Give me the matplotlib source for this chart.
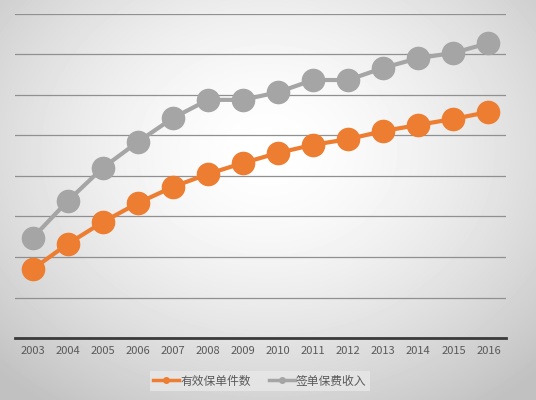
import numpy as np
import matplotlib.pyplot as plt
from matplotlib.lines import Line2D

plt.rcParams['font.family'] = ['Noto Sans CJK SC', 'DejaVu Sans']

years = list(range(2003, 2017))
# 有效保单件数 (orange)
policies = [1.70, 2.32, 2.86, 3.33, 3.73, 4.05, 4.32, 4.57, 4.77, 4.91, 5.11, 5.26, 5.41, 5.58]
# 签单保费收入 (gray)
premiums = [2.47, 3.38, 4.20, 4.84, 5.43, 5.88, 5.88, 6.07, 6.37, 6.37, 6.67, 6.91, 7.04, 7.28]

ORANGE = "#ed7d31"
GRAY = "#a5a5a5"
TEXT = "#595959"

fig = plt.figure(figsize=(5.36, 4.00), dpi=100)

# radial gradient background
bg = fig.add_axes([0, 0, 1, 1])
gx, gy = np.meshgrid(np.linspace(-1, 1, 536), np.linspace(-1, 1, 400))
r = np.sqrt((gx / 1.1) ** 2 + ((gy + 0.25) / 1.2) ** 2)
shade = 1.0 - 0.16 * np.clip(r, 0, 1.3) ** 1.6
bg.imshow(shade, cmap="gray", vmin=0, vmax=1, aspect="auto", extent=[0, 1, 0, 1])
bg.axis("off")

ax = fig.add_axes([15 / 536, 62 / 400, 491 / 536, 324 / 400])
ax.patch.set_alpha(0)
ax.plot(years, premiums, color=GRAY, lw=3, marker="o", ms=16, label="签单保费收入", zorder=3)
ax.plot(years, policies, color=ORANGE, lw=3, marker="o", ms=16, label="有效保单件数", zorder=4)

ax.set_xlim(2002.5, 2016.5)
ax.set_ylim(0, 8)
ax.set_xticks(years)
ax.set_yticks(range(0, 9))
ax.set_yticklabels([])
ax.tick_params(axis="y", length=0)
ax.tick_params(axis="x", length=0, colors=TEXT, labelsize=8, pad=6)
ax.grid(axis="y", color="#909090", lw=0.9)
for s in ["top", "right", "left"]:
    ax.spines[s].set_visible(False)
ax.spines["bottom"].set_color("#3a3a3a")
ax.spines["bottom"].set_linewidth(2)

h1 = Line2D([], [], color=ORANGE, lw=2.5, marker="o", ms=4)
h2 = Line2D([], [], color=GRAY, lw=2.5, marker="o", ms=4)
leg = fig.legend([h1, h2], ["有效保单件数", "签单保费收入"], loc="center",
                 bbox_to_anchor=(260 / 536, 19 / 400), ncol=2, frameon=True,
                 fontsize=8.5, handlelength=2.2, handletextpad=0.1, columnspacing=1.5,
                 borderpad=0.3, fancybox=False)
leg.get_frame().set_facecolor("#e8e8e8")
leg.get_frame().set_edgecolor("none")
leg.get_frame().set_alpha(0.8)
for t in leg.get_texts():
    t.set_color(TEXT)

fig.savefig("out.png", dpi=100)
